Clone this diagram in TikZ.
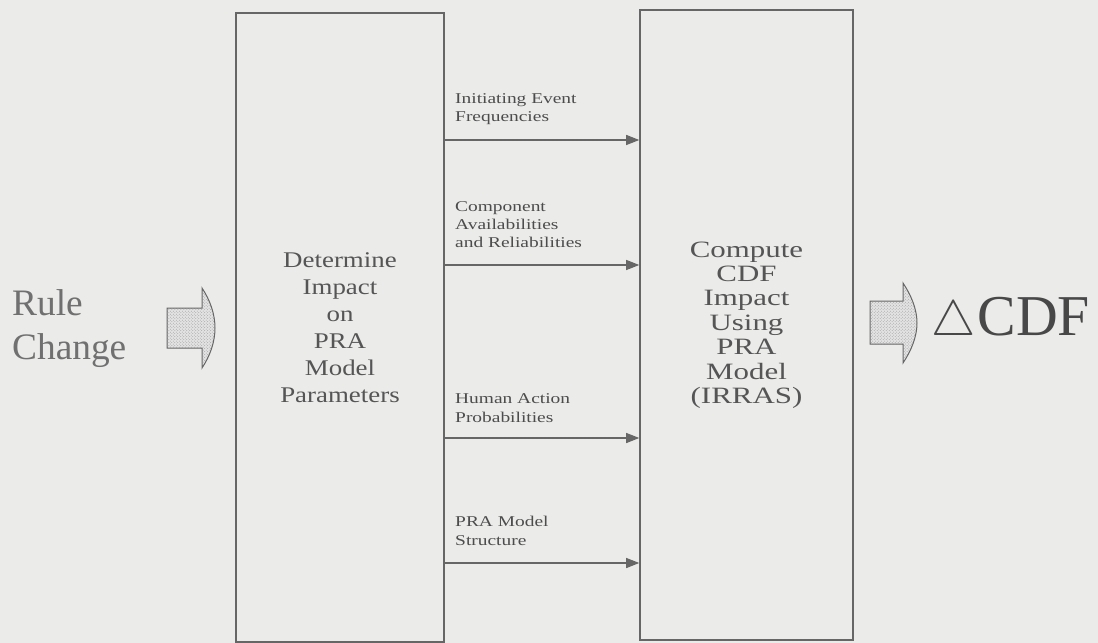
\documentclass[tikz,border=0pt]{standalone}
\usepackage{fontspec}
\usepackage{graphicx}
\setmainfont{Liberation Serif}
\newfontfamily\leftboxfont[FakeStretch=1.2]{Liberation Serif}
\newfontfamily\rightboxfont[FakeStretch=1.32]{Liberation Serif}
\newfontfamily\labelfont[FakeStretch=1.3]{Liberation Serif}
\usetikzlibrary{arrows.meta,patterns}
\definecolor{paper}{HTML}{EBEBEA}
\definecolor{ink}{HTML}{555555}
\definecolor{edge}{HTML}{666666}
\definecolor{softink}{HTML}{707070}

\begin{document}
\begin{tikzpicture}[x=1bp,y=-1bp,
  panel/.style={draw=edge, line width=1.6bp, inner sep=0pt, text=ink, align=center},
  flow/.style={draw=edge, line width=1.2bp, -{Triangle[length=13bp,width=10bp]}},
  flowlabel/.style={anchor=base west, inner sep=0pt, text=ink!90!black, align=left,
    font=\labelfont\fontsize{15}{18.5}\selectfont},
  blockarrow/.style={draw=edge, line width=1bp,
    preaction={fill=gray!22}, pattern=crosshatch dots, pattern color=gray!75},
]
% page
\fill[paper] (0,0) rectangle (1098,643);
\useasboundingbox (0,0) rectangle (1098,643);

% the two process boxes
\node[panel, minimum width=208bp, minimum height=629bp,
      font=\leftboxfont\fontsize{22.5}{27}\selectfont] (det) at (340,327.5)
  {Determine\\Impact\\on\\PRA\\Model\\Parameters};
\node[panel, minimum width=213bp, minimum height=630bp,
      font=\rightboxfont\fontsize{23.5}{24.5}\selectfont] (comp) at (746.5,325)
  {Compute\\CDF\\Impact\\Using\\PRA\\Model\\(IRRAS)};

% rows of the parameter flows
\coordinate (r1) at (0,140);
\coordinate (r2) at (0,265);
\coordinate (r3) at (0,438);
\coordinate (r4) at (0,563);

\draw[flow] (r1 -| det.east) -- (r1 -| comp.west);
\draw[flow] (r2 -| det.east) -- (r2 -| comp.west);
\draw[flow] (r3 -| det.east) -- (r3 -| comp.west);
\draw[flow] (r4 -| det.east) -- (r4 -| comp.west);

% labels sit on the baseline of their last line
\node[flowlabel] (l1) at (455,122) {Initiating Event\\Frequencies};
\node[flowlabel] (l2) at (455,248) {Component\\Availabilities\\and Reliabilities};
\node[flowlabel] (l3) at (455,422) {Human Action\\Probabilities};
\node[flowlabel] (l4) at (455,545) {PRA Model\\Structure};

% input and output
\node[anchor=west, inner sep=0pt, align=left, text=softink,
      font=\fontsize{37.5}{45}\selectfont] (rc) at (12,328.5) {Rule\\Change};
\node[anchor=base west, inner sep=0pt, text=ink!85!black,
      font=\fontsize{58}{58}\selectfont] (dcdf) at (931,335)
  {\scalebox{5}{\fontsize{10}{12}\selectfont$\triangle$}\hspace{2bp}CDF};

% hollow block arrows
\path[blockarrow] (167,308) -- (202,308) -- (202,288)
  .. controls (210,300) and (215,314) .. (215,328)
  .. controls (215,342) and (210,356) .. (202,368)
  -- (202,348) -- (167,348) -- cycle;
\path[blockarrow] (870,301) -- (903,301) -- (903,283)
  .. controls (911,295) and (917,309) .. (917,323)
  .. controls (917,337) and (911,351) .. (903,363)
  -- (903,344) -- (870,344) -- cycle;
\end{tikzpicture}
\end{document}
